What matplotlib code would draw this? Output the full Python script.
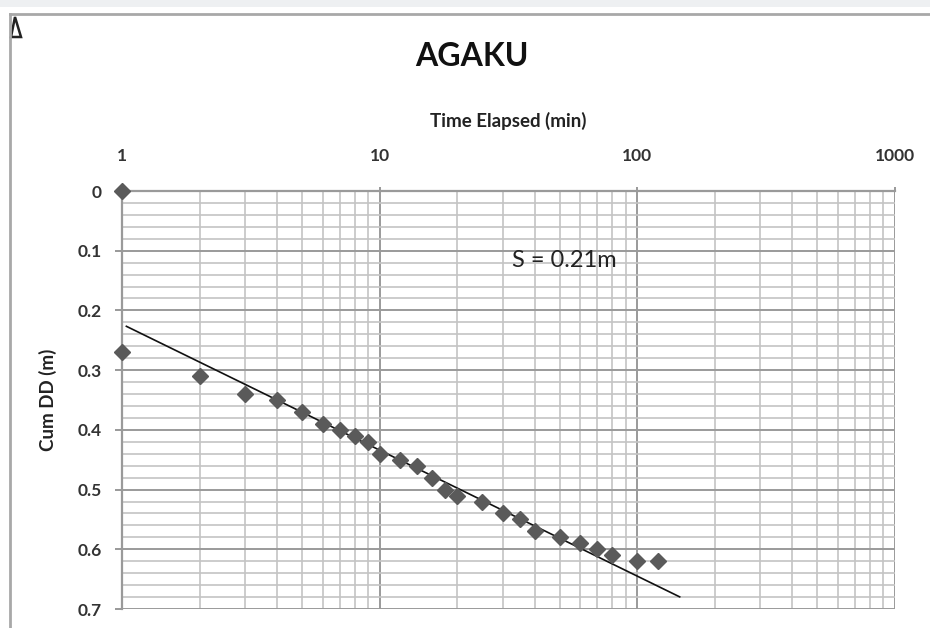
import matplotlib
matplotlib.use("Agg")
import matplotlib.pyplot as plt
import numpy as np
from matplotlib.ticker import LogLocator, FixedLocator, NullFormatter
from matplotlib.patches import Polygon, Rectangle
from matplotlib.lines import Line2D

# ---- data ----
time_min = [1, 1, 2, 3, 4, 5, 6, 7, 8, 9, 10, 12, 14, 16, 18, 20, 25, 30, 35, 40,
            50, 60, 70, 80, 100, 120]
cum_dd = [0.0, 0.27, 0.31, 0.34, 0.35, 0.37, 0.39, 0.40, 0.41, 0.42, 0.44, 0.45,
          0.46, 0.48, 0.50, 0.51, 0.52, 0.54, 0.55, 0.57, 0.58, 0.59, 0.60, 0.61,
          0.62, 0.62]
fit_intercept = 0.223
fit_slope = 0.211
fit_t_range = [1.04, 146]
x_ticks = [1, 10, 100, 1000]
x_tick_labels = ["1", "10", "100", "1000"]
y_ticks = [0, 0.1, 0.2, 0.3, 0.4, 0.5, 0.6, 0.7]
y_tick_labels = ["0", "0.1", "0.2", "0.3", "0.4", "0.5", "0.6", "0.7"]
title = "AGAKU"
x_label = "Time Elapsed (min)"
y_label = "Cum DD (m)"
annotation = "S = 0.21m"

plt.rcParams['font.family'] = ['Lato', 'DejaVu Sans']

W, H = 930, 628
fig = plt.figure(figsize=(W / 100, H / 100), dpi=100)

# page decorations
fig.patches.append(Rectangle((0, 1 - 7 / H), 1, 7 / H, transform=fig.transFigure,
                             facecolor='#eef0f2', edgecolor='none', zorder=0))
fig.lines.append(Line2D([10 / W, 1], [1 - 14 / H, 1 - 14 / H], transform=fig.transFigure,
                        color='#a8a8a8', lw=2))
fig.lines.append(Line2D([10 / W, 10 / W], [0, 1 - 14 / H], transform=fig.transFigure,
                        color='#a8a8a8', lw=2))
fig.patches.append(Polygon([(11 / W, 1 - 37 / H), (21 / W, 1 - 37 / H), (15 / W, 1 - 17 / H)],
                           closed=True, transform=fig.transFigure, facecolor='none',
                           edgecolor='#222222', lw=1.8))

ax = fig.add_axes([122 / W, 1 - 609 / H, (895 - 122) / W, (609 - 191) / H])
ax.set_xscale('log')
ax.set_xlim(1, 1000)
ax.set_ylim(0.7, 0)

ax.xaxis.set_major_locator(FixedLocator(x_ticks))
ax.set_xticklabels(x_tick_labels)
ax.xaxis.set_minor_locator(LogLocator(base=10, subs=np.arange(2, 10)))
ax.xaxis.set_minor_formatter(NullFormatter())
ax.yaxis.set_major_locator(FixedLocator(y_ticks))
ax.set_yticklabels(y_tick_labels)
ax.yaxis.set_minor_locator(FixedLocator(np.arange(0, 0.7001, 0.02)))

ax.xaxis.tick_top()
ax.xaxis.set_label_position('top')
ax.tick_params(axis='x', which='major', direction='out', length=3, width=1.2,
               color='#888888', labelsize=12.5, labelcolor='#333333', pad=16.5)
ax.tick_params(axis='y', which='major', direction='out', length=5, width=1.2,
               color='#888888', labelsize=12.5, labelcolor='#333333', pad=9.5)
ax.tick_params(which='minor', length=0)
for lab in ax.get_xticklabels() + ax.get_yticklabels():
    lab.set_fontweight('bold')

ax.grid(True, which='major', color='#9a9a9a', lw=1.4)
ax.grid(True, which='minor', color='#c4c4c4', lw=1.2)
ax.set_axisbelow(True)
for side in ['bottom', 'right']:
    ax.spines[side].set_visible(False)
ax.spines['top'].set_color('#9a9a9a')
ax.spines['top'].set_linewidth(1.6)
ax.spines['left'].set_color('#9a9a9a')
ax.spines['left'].set_linewidth(1.6)

t_fit = np.array(fit_t_range)
ax.plot(t_fit, fit_intercept + fit_slope * np.log10(t_fit), color='#111111', lw=1.2,
        zorder=3)
ax.plot(time_min, cum_dd, linestyle='none', marker='D', markersize=8,
        color='#5a5a5a', zorder=4, clip_on=False)

ax.text(32.6, 0.1156, annotation, fontsize=17, color='#222222', ha='left', va='center')

ax.set_xlabel(x_label, fontsize=13.5, fontweight='bold', color='#222222', labelpad=15)
ax.set_ylabel(y_label, fontsize=13.5, fontweight='bold', color='#222222', labelpad=15)
fig.text(472 / W, 1 - 57 / H, title, fontsize=23, fontweight='bold', color='#111111',
         ha='center', va='center')

fig.savefig('out.png', dpi=100)
